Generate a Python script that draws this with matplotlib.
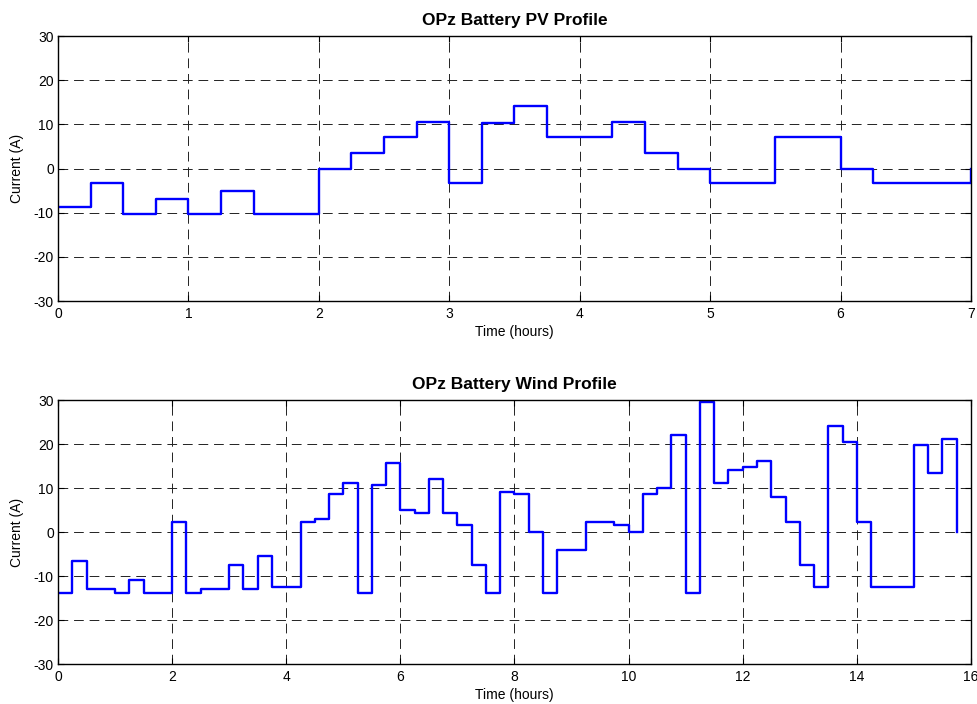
import numpy as np
import matplotlib
matplotlib.use('Agg')
import matplotlib.pyplot as plt

plt.rcParams['font.family'] = ['Liberation Sans', 'DejaVu Sans']
plt.rcParams['axes.unicode_minus'] = False

# PV profile, 15 minute steps over 7 hours (last point closes the trace)
pv_current = [-8.7, -3.3, -10.3, -7.0, -10.3, -5.1, -10.3, -10.3,
              0.0, 3.5, 7.1, 10.5, -3.3, 10.4, 14.1, 7.1,
              7.1, 10.5, 3.5, 0.0, -3.3, -3.3, 7.1, 7.1,
              0.0, -3.3, -3.3, -3.3, 0.0]
pv_time = np.arange(len(pv_current)) * 0.25

# Wind profile, 15 minute steps over 15.75 hours
wind_current = [-13.8, -6.7, -13.0, -13.0, -13.8, -10.9, -13.8, -13.8,
                2.3, -13.8, -13.0, -13.0, -7.4, -13.0, -5.4, -12.5,
                -12.5, 2.3, 3.0, 8.6, 11.2, -13.8, 10.7, 15.7,
                5.0, 4.4, 12.0, 4.4, 1.6, -7.4, -13.8, 9.2,
                8.6, 0.0, -13.8, -4.2, -4.2, 2.3, 2.3, 1.7,
                0.0, 8.6, 9.9, 22.1, -13.8, 29.5, 11.2, 14.2,
                14.8, 16.2, 7.9, 2.3, -7.4, -12.5, 24.0, 20.5,
                2.3, -12.5, -12.5, -12.5, 19.8, 13.4, 21.1, 0.0]
wind_time = np.arange(len(wind_current)) * 0.25

fig = plt.figure(figsize=(9.78, 7.04), dpi=100)
ax1 = fig.add_axes([0.0593, 0.5724, 0.9335, 0.3764])
ax2 = fig.add_axes([0.0593, 0.0568, 0.9335, 0.375])


def style_axis(ax, title, xmax, xticks):
    ax.set_xlim(0, xmax)
    ax.set_ylim(-30, 30)
    ax.set_xticks(xticks)
    ax.set_yticks(np.arange(-30, 31, 10))
    ax.grid(True, color='#222222', linestyle=(0, (10, 6)), linewidth=0.7)
    ax.tick_params(direction='in', length=4, labelsize=10, top=True, right=True, pad=3)
    ax.tick_params(axis='x', pad=4)
    for s in ax.spines.values():
        s.set_linewidth(1.0)
    ax.set_title(title, fontsize=12.5, fontweight='bold', pad=8)
    ax.set_xlabel('Time (hours)', fontsize=10, labelpad=3)
    ax.set_ylabel('Current (A)', fontsize=10, labelpad=7)


ax1.plot(pv_time, pv_current, drawstyle='steps-post', color='blue', linewidth=1.7)
style_axis(ax1, 'OPz Battery PV Profile', 7, np.arange(0, 8, 1))

ax2.plot(wind_time, wind_current, drawstyle='steps-post', color='blue', linewidth=1.7)
style_axis(ax2, 'OPz Battery Wind Profile', 16, np.arange(0, 17, 2))

plt.savefig('out.png', dpi=100)
